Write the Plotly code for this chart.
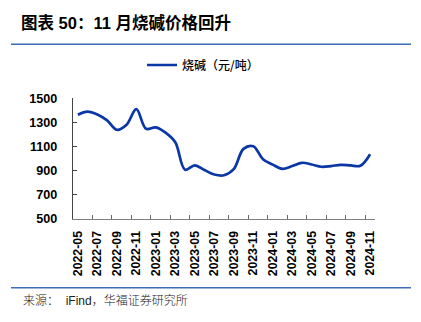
import plotly.graph_objects as go

months = ["2022-05", "2022-06", "2022-07", "2022-08", "2022-09", "2022-10", "2022-11", "2022-12",
          "2023-01", "2023-02", "2023-03", "2023-04", "2023-05", "2023-06", "2023-07", "2023-08",
          "2023-09", "2023-10", "2023-11", "2023-12", "2024-01", "2024-02", "2024-03", "2024-04",
          "2024-05", "2024-06", "2024-07", "2024-08", "2024-09", "2024-10", "2024-11"]
caustic_soda = [1362, 1388, 1365, 1316, 1238, 1280, 1408, 1246,
                1258, 1214, 1134, 908, 944, 905, 868, 862,
                912, 1080, 1102, 995, 950, 915, 938, 965,
                951, 932, 938, 948, 943, 940, 1035]
series_name = "烧碱（元/吨）"
y_ticks = [500, 700, 900, 1100, 1300, 1500]

W, H = 421, 322
L, R, T, B = 73, 46, 94, 103
pw = W - L - R
ph = H - T - B

def px_x(x):
    return (x - L) / pw

def px_y(y):
    return (H - B - y) / ph

latin_cjk = "Liberation Sans, Arial, Noto Sans CJK SC, sans-serif"

fig = go.Figure()
fig.add_trace(go.Scatter(
    x=months, y=caustic_soda, mode="lines", name=series_name,
    line=dict(color="#0A37A5", width=2.7, shape="spline", smoothing=1.0),
    showlegend=True,
))

fig.update_layout(
    width=W, height=H,
    margin=dict(l=L, r=R, t=T, b=B),
    paper_bgcolor="white", plot_bgcolor="white",
    title=dict(text="<b>图表 50：11 月烧碱价格回升</b>", x=21 / W, xanchor="left",
               xref="container", y=1 - 23 / H, yref="container", yanchor="middle",
               font=dict(family=latin_cjk, size=16.5, color="#000000")),
    showlegend=True,
    legend=dict(orientation="h", xref="container", yref="container",
                x=142 / W, xanchor="left", y=1 - 65 / H, yanchor="middle",
                font=dict(family="Noto Sans CJK SC, sans-serif", size=12, color="#000000",
                          weight=500),
                bgcolor="rgba(0,0,0,0)"),
    xaxis=dict(type="category", range=[-0.5, 30.5], tickmode="linear", tick0=0, dtick=2,
               tickson="boundaries", ticks="inside", ticklen=4, tickcolor="#666666",
               showline=True, linecolor="#7F7F7F", linewidth=1.2, showgrid=False,
               tickangle=-90, ticklabelstandoff=6,
               tickfont=dict(family=latin_cjk, size=12.3, color="#000000", weight="bold")),
    yaxis=dict(range=[500, 1500], tickvals=y_ticks, ticks="inside", ticklen=4,
               tickcolor="#444444", showline=True, linecolor="#444444", linewidth=1.2,
               showgrid=False, zeroline=False, ticklabelstandoff=12,
               tickfont=dict(family=latin_cjk, size=12.6, color="#000000", weight="bold")),
)

rule_color = "#3E6DB5"
for yy in (38.3, 290):
    fig.add_shape(type="line", xref="paper", yref="paper",
                  x0=px_x(11), x1=px_x(411), y0=px_y(yy), y1=px_y(yy),
                  line=dict(color=rule_color, width=1.5))

fig.add_annotation(text="来源：  iFind，华福证券研究所", xref="paper", yref="paper",
                   x=px_x(21), y=px_y(304), xanchor="left", yanchor="middle",
                   showarrow=False,
                   font=dict(family="Liberation Sans, Noto Sans CJK SC, sans-serif", size=12,
                             color="#222222", weight=300))

fig.write_html("out.html")
